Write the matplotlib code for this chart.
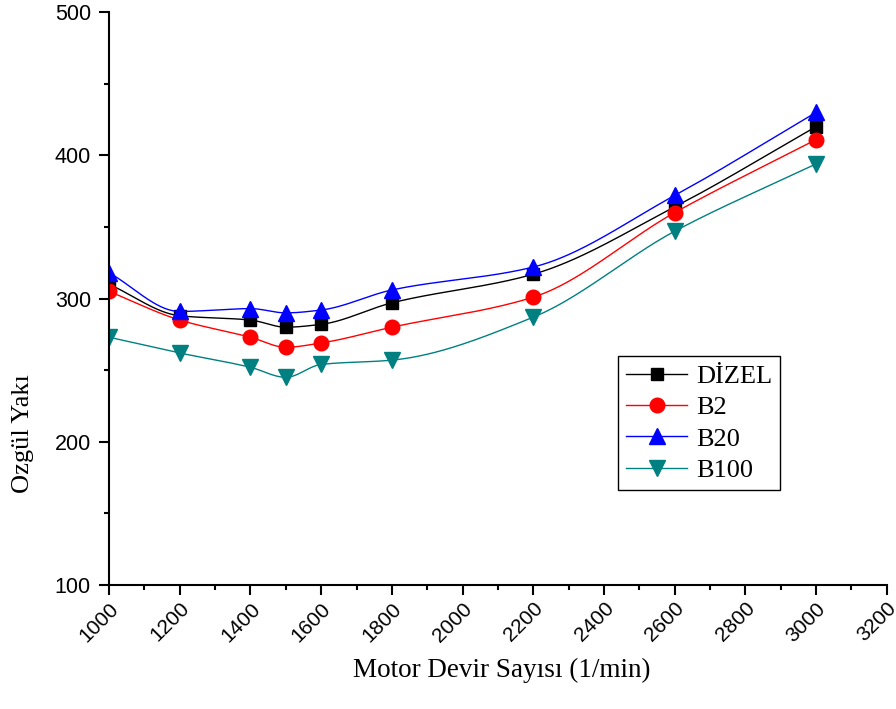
import numpy as np
import matplotlib.pyplot as plt
from matplotlib.ticker import MultipleLocator

rpm = [1000, 1200, 1400, 1500, 1600, 1800, 2200, 2600, 3000]
dizel = [310, 288, 285, 280, 282, 297, 317, 364, 420]
b2 = [305, 285, 273, 266, 269, 280, 301, 360, 411]
b20 = [318, 291, 293, 290, 292, 306, 322, 372, 430]
b100 = [273, 262, 252, 245, 254, 257, 287, 347, 394]


def smooth(x, y, n=400):
    # monotone cubic (Fritsch-Carlson) through the points
    x = np.asarray(x, float)
    y = np.asarray(y, float)
    h = np.diff(x)
    d = np.diff(y) / h
    k = len(x)
    m = np.zeros(k)
    for i in range(1, k - 1):
        if d[i - 1] * d[i] > 0:
            w1 = 2 * h[i] + h[i - 1]
            w2 = h[i] + 2 * h[i - 1]
            m[i] = (w1 + w2) / (w1 / d[i - 1] + w2 / d[i])
    m[0] = d[0]
    m[-1] = d[-1]
    xs = np.linspace(x[0], x[-1], n)
    j = np.clip(np.searchsorted(x, xs) - 1, 0, k - 2)
    t = (xs - x[j]) / h[j]
    h00 = 2 * t**3 - 3 * t**2 + 1
    h10 = t**3 - 2 * t**2 + t
    h01 = -2 * t**3 + 3 * t**2
    h11 = t**3 - t**2
    ys = h00 * y[j] + h10 * h[j] * m[j] + h01 * y[j + 1] + h11 * h[j] * m[j + 1]
    return xs, ys


fig = plt.figure(figsize=(8.96, 7.09), dpi=100)
ax = fig.add_axes([0.1217, 0.1749, 0.868, 0.808])

series = [
    ("DİZEL", dizel, "black", "s", 9),
    ("B2", b2, "#ff0000", "o", 10.5),
    ("B20", b20, "#0000ff", "^", 11),
    ("B100", b100, "#008080", "v", 11),
]
for name, vals, col, mk, ms in series:
    xs, ys = smooth(rpm, vals)
    ax.plot(xs, ys, color=col, lw=1)
    ax.plot(rpm, vals, ls="none", marker=mk, ms=ms, color=col)
    ax.plot([], [], color=col, lw=1, marker=mk, ms=ms, label=name)

ax.set_xlim(1000, 3200)
ax.set_ylim(100, 500)
ax.xaxis.set_major_locator(MultipleLocator(200))
ax.xaxis.set_minor_locator(MultipleLocator(100))
ax.yaxis.set_major_locator(MultipleLocator(100))
ax.yaxis.set_minor_locator(MultipleLocator(50))

for s in ["top", "right"]:
    ax.spines[s].set_visible(False)
for s in ["left", "bottom"]:
    ax.spines[s].set_linewidth(1.5)
ax.tick_params(which="major", length=7, width=1.5, direction="out")
ax.tick_params(which="minor", length=3.5, width=1.5, direction="out")
ax.tick_params(axis="y", labelsize=15.5, pad=6)
ax.tick_params(axis="x", labelsize=15, pad=3)
for lbl in ax.get_xticklabels() + ax.get_yticklabels():
    lbl.set_family("Liberation Sans")
plt.setp(ax.get_xticklabels(), rotation=45, ha="right", rotation_mode="anchor")

ax.set_xlabel("Motor Devir Sayısı (1/min)", family="Liberation Serif",
              fontsize=19.5)
ax.set_ylabel("Ozgül Yakı", family="Liberation Serif", fontsize=19)
ax.xaxis.set_label_coords(0.505, -0.128)
ax.yaxis.set_label_coords(-0.096, 0.265)

leg = ax.legend(loc="lower left", bbox_to_anchor=(0.655, 0.166),
                prop={"family": "Liberation Serif", "size": 19},
                fancybox=False, edgecolor="black", framealpha=1,
                handlelength=2.3, borderpad=0.3, labelspacing=0.3,
                handletextpad=0.35, borderaxespad=0)
leg.get_frame().set_linewidth(1)

plt.savefig("out.png", dpi=100)
plt.close()
